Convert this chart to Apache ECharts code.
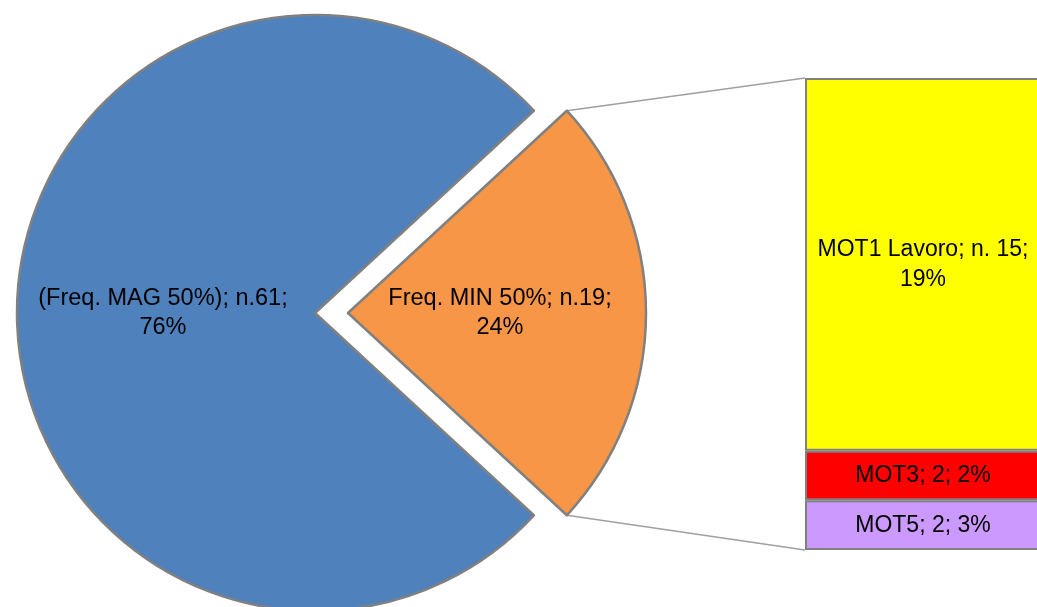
<!DOCTYPE html>
<html>
<head>
<meta charset="utf-8">
<script src="https://cdn.jsdelivr.net/npm/echarts@6/dist/echarts.min.js"></script>
<style>
  html, body { margin: 0; padding: 0; background: #fff; overflow: hidden; }
  #chart { width: 1060px; height: 607px; }
</style>
</head>
<body>
<div id="chart"></div>
<script>
// pie: orange slice first so it sits on the right
const pieNames = ['Freq. MIN 50%', '(Freq. MAG 50%)']
const pieCounts = [19, 61]
const piePct = [24, 76]
const pieColors = ['#f79646', '#4f81bd']

// bar of pie (breakdown of the orange slice), top to bottom
const barNames = ['MOT1 Lavoro', 'MOT3', 'MOT5']
const barCounts = [15, 2, 2]
const barPct = [19, 2, 3]
const barColors = ['#ffff00', '#ff0000', '#cc99ff']
const barLabels = ['MOT1 Lavoro; n. 15;\n19%', 'MOT3; 2; 2%', 'MOT5; 2; 3%']

const FONT = '"Liberation Sans", Arial, sans-serif'
const BORDER = '#808080'

// geometry
const R = 298
const cy = 313
const blueCx = 315
const orangeCx = 348
const barLeft = 805
const barTop = 78
const barH = 472

const total = pieCounts[0] + pieCounts[1]
const half = pieCounts[0] / total * 180 // half-angle of orange slice, degrees
const startAngle = half

function pieSeries(cx, visibleIdx) {
  return {
    type: 'pie',
    center: [cx, cy],
    radius: [0, R],
    startAngle: startAngle,
    clockwise: true,
    silent: true,
    animation: false,
    label: {
      show: true,
      position: 'inside',
      color: '#000',
      fontFamily: FONT,
      fontSize: 23.5,
      lineHeight: 29,
      padding: [8, 0, 0, 0],
      formatter: p => pieNames[p.dataIndex] + '; n.' + pieCounts[p.dataIndex] + ';\n' + piePct[p.dataIndex] + '%'
    },
    labelLine: { show: false },
    data: pieCounts.map((v, i) => ({
      name: pieNames[i],
      value: v,
      itemStyle: i === visibleIdx
        ? { color: pieColors[i], borderColor: BORDER, borderWidth: 2.5 }
        : { color: 'rgba(0,0,0,0)', borderWidth: 0 },
      label: { show: i === visibleIdx }
    }))
  }
}

// connector lines from the orange slice edges to the bar
const rad = half * Math.PI / 180
const edgeX = orangeCx + R * Math.cos(rad)
const edgeTopY = cy - R * Math.sin(rad)
const edgeBotY = cy + R * Math.sin(rad)

const chart = echarts.init(document.getElementById('chart'), null, { renderer: 'canvas' })

// stack from bottom: reverse order
const stackOrder = [2, 1, 0]

chart.setOption({
  backgroundColor: '#fff',
  animation: false,
  grid: { left: barLeft, top: barTop, width: 236, height: barH },
  xAxis: { type: 'category', data: ['MIN'], show: false },
  yAxis: { type: 'value', min: 0, max: barCounts.reduce((a, b) => a + b, 0), show: false },
  graphic: [
    { type: 'line', shape: { x1: edgeX, y1: edgeTopY, x2: barLeft, y2: barTop }, style: { stroke: '#a0a0a0', lineWidth: 1.5 }, z: 1 },
    { type: 'line', shape: { x1: edgeX, y1: edgeBotY, x2: barLeft, y2: barTop + barH }, style: { stroke: '#a0a0a0', lineWidth: 1.5 }, z: 1 }
  ],
  series: [
    pieSeries(blueCx, 1),
    pieSeries(orangeCx, 0)
  ].concat(stackOrder.map(i => ({
    type: 'bar',
    name: barNames[i],
    stack: 'mot',
    barWidth: '100%',
    silent: true,
    data: [barCounts[i]],
    itemStyle: { color: barColors[i], borderColor: BORDER, borderWidth: 2 },
    label: {
      show: true,
      position: 'inside',
      color: '#000',
      fontFamily: FONT,
      fontSize: 23,
      lineHeight: 30,
      padding: [8, 0, 0, 0],
      formatter: () => barLabels[i]
    }
  })))
})
</script>
</body>
</html>
